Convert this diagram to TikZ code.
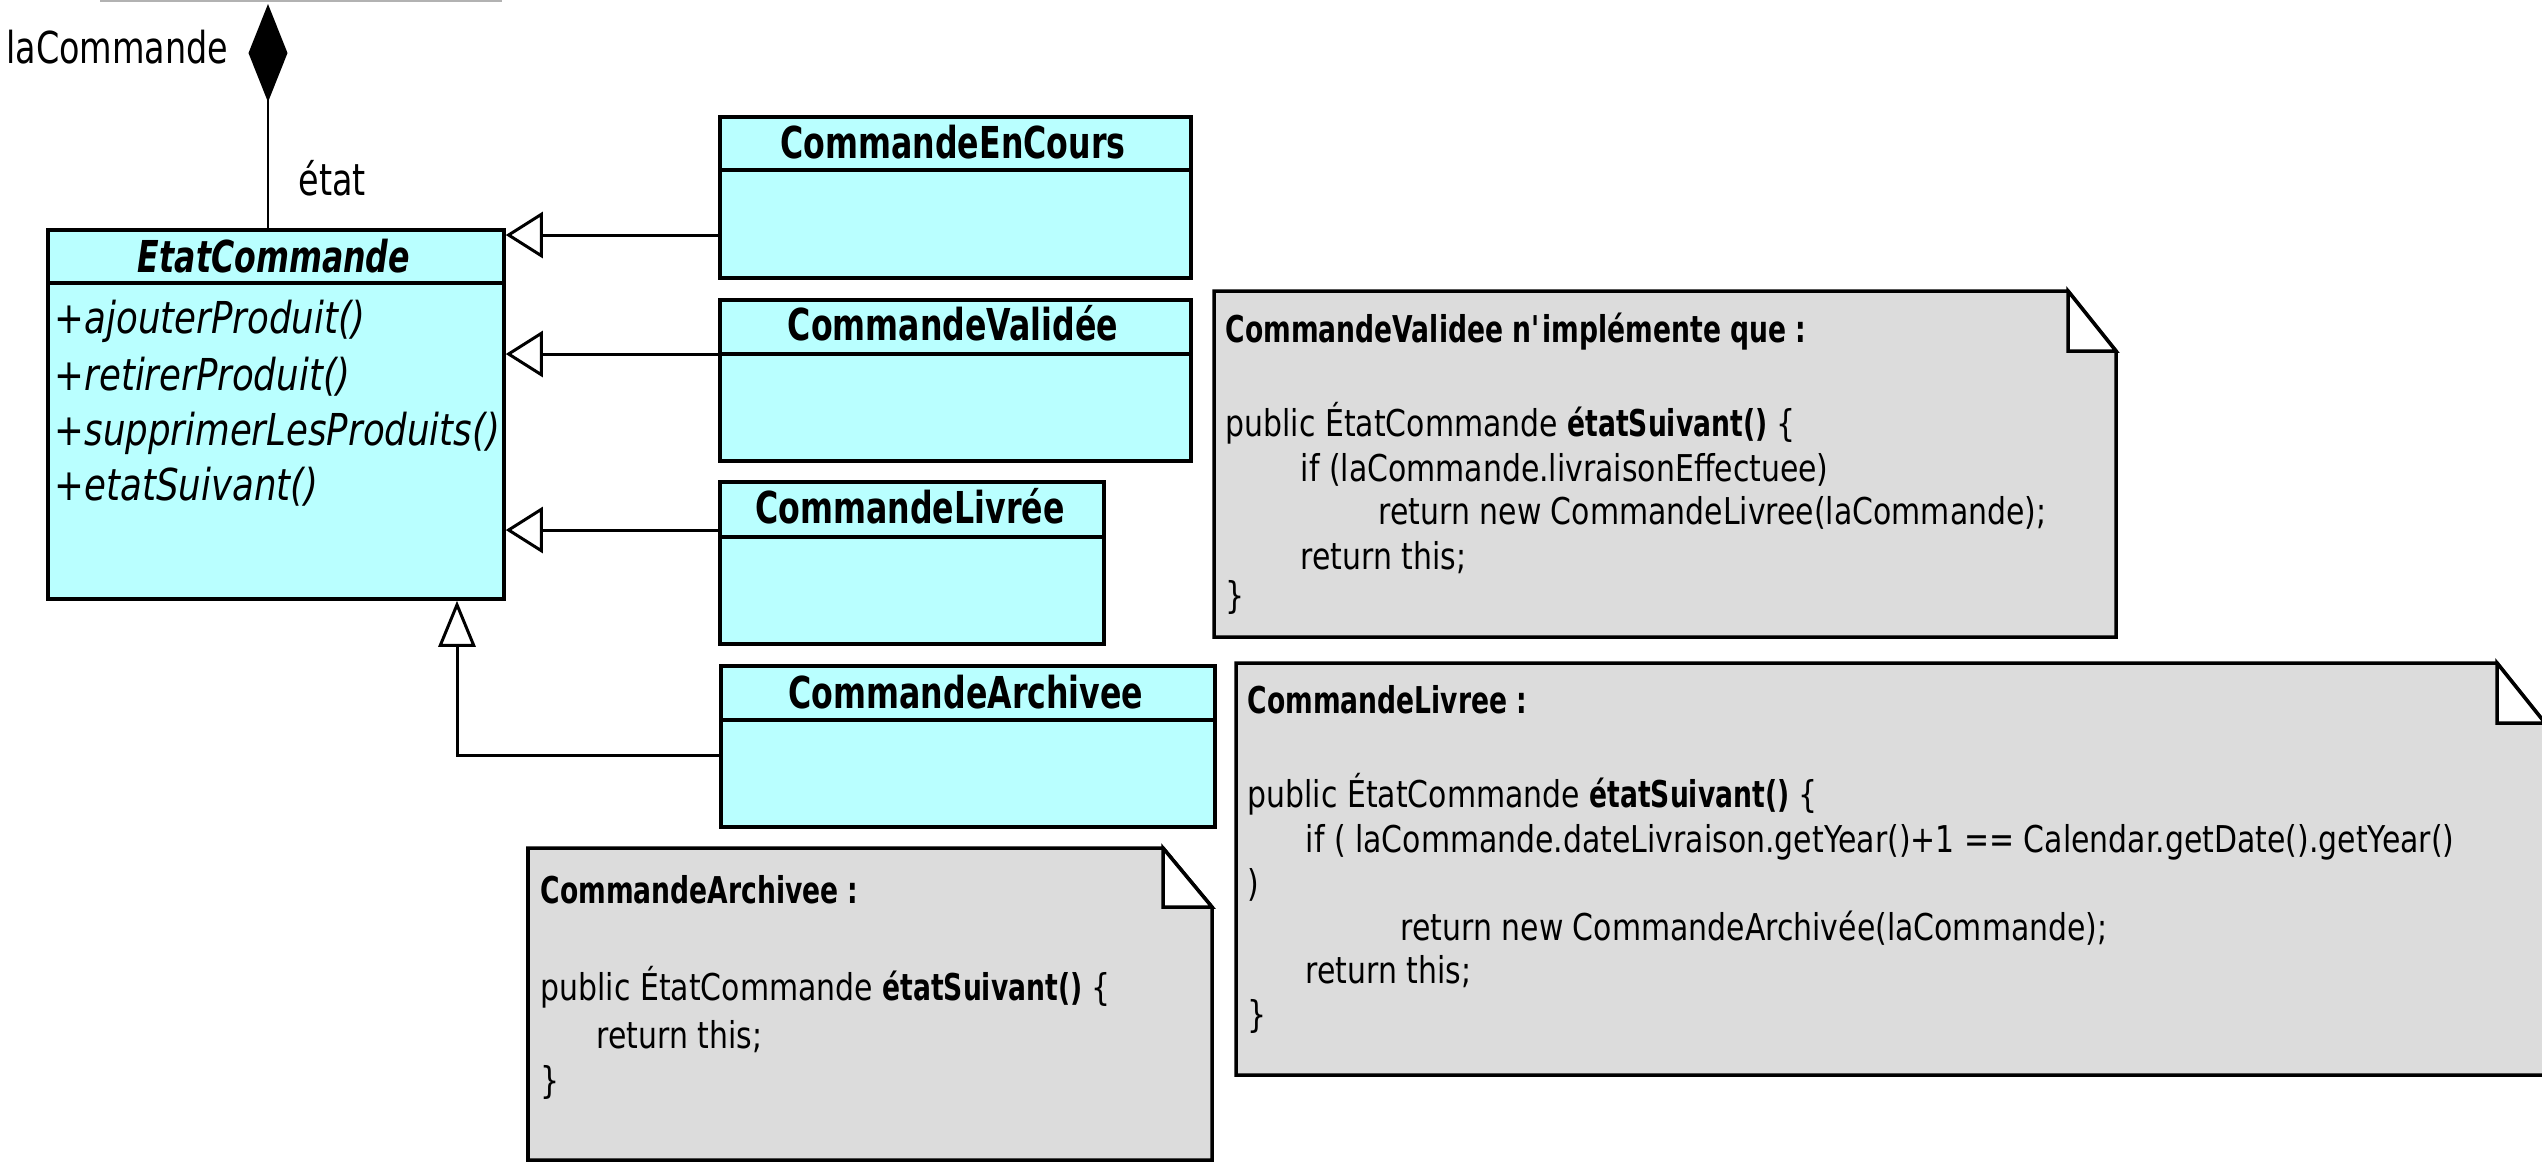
\documentclass[tikz,border=0pt]{standalone}
\usepackage{fontspec}
\setmainfont{DejaVu Sans}[FakeStretch=0.76]
\newfontfamily\boldfam{DejaVu Sans}[FakeStretch=0.72]
\newfontfamily\codefam{DejaVu Sans}[FakeStretch=0.81]
\newfontfamily\methodfam{DejaVu Sans}[FakeStretch=0.81]
\usetikzlibrary{arrows.meta}
\definecolor{classcyan}{RGB}{185,255,255}
\definecolor{notegray}{RGB}{220,220,220}
\newcommand{\methodname}[1]{{\boldfam\bfseries #1}}
\tikzset{classbox/.style={draw=black, fill=classcyan, line width=1pt, anchor=north west, inner sep=0pt},
  classname/.style={font=\boldfam\bfseries\fontsize{12.5}{15}\selectfont, anchor=base, inner sep=0pt},
  abstractname/.style={font=\boldfam\bfseries\itshape\fontsize{12.5}{15}\selectfont, anchor=base, inner sep=0pt},
  method/.style={font=\methodfam\itshape\fontsize{12.5}{15}\selectfont, anchor=base west, inner sep=0pt},
  rolename/.style={font=\fontsize{12.5}{15}\selectfont, inner sep=0pt},
  notebox/.style={draw=black, fill=notegray, line width=1pt},
  notefold/.style={draw=black, fill=white, line width=1pt},
  code/.style={font=\codefam\fontsize{10.5}{12.6}\selectfont, anchor=base west, inner sep=0pt},
  codehead/.style={font=\boldfam\bfseries\fontsize{10.5}{12.6}\selectfont, anchor=base west, inner sep=0pt},
  composition/.style={line width=0.85pt, -{Diamond[length=0.98cm, width=0.39cm]}},
  genh/.style={line width=0.85pt, -{Triangle[open, length=0.37cm, width=0.46cm]}},
  genv/.style={line width=0.85pt, -{Triangle[open, length=0.46cm, width=0.37cm]}}}

\begin{document}
\begin{tikzpicture}[x=0.01cm, y=-0.01cm]
   \useasboundingbox (0,0) rectangle (2542,1162);
   % edge of the owning class, cut off
   \draw[gray!60, line width=0.6pt] (100,1) -- (502,1);
   % abstract state
   \node[classbox, minimum width=4.56cm, minimum height=3.69cm] (etat) at (46,228) {};
   \draw[line width=1pt] (46,283) -- (502,283);
   \node[abstractname] (etatn) at (274,272) {EtatCommande};
   \node[method] (m1) at (54,333) {+ajouterProduit()};
   \node[method] (m2) at (54,390) {+retirerProduit()};
   \node[method] (m3) at (54,445) {+supprimerLesProduits()};
   \node[method] (m4) at (54,500) {+etatSuivant()};
   % composition
   \coordinate (comp) at (268,4);
   \draw[composition] (etat.north -| comp) -- (comp);
   \node[rolename, anchor=base east] (rolea) at (229,63) {laCommande};
   \node[rolename, anchor=base west] (roleb) at (298,195) {état};
   % concrete states
   \node[classbox, minimum width=4.71cm, minimum height=1.61cm] (enc) at (718,115) {};
   \draw[line width=1pt] (718,170) -- (1189,170);
   \node[classname] (encn) at (953,158) {CommandeEnCours};
   \node[classbox, minimum width=4.71cm, minimum height=1.61cm] (val) at (718,298) {};
   \draw[line width=1pt] (718,354) -- (1189,354);
   \node[classname] (valn) at (953,340) {CommandeValidée};
   \node[classbox, minimum width=3.84cm, minimum height=1.62cm] (liv) at (718,480) {};
   \draw[line width=1pt] (718,537) -- (1102,537);
   \node[classname] (livn) at (910,523) {CommandeLivrée};
   \node[classbox, minimum width=4.94cm, minimum height=1.61cm] (arc) at (719,664) {};
   \draw[line width=1pt] (719,720) -- (1213,720);
   \node[classname] (arcn) at (966,708) {CommandeArchivee};
   % generalisations
   \coordinate (g1) at (718,235);
   \coordinate (g2) at (718,354);
   \coordinate (g3) at (718,530);
   \coordinate (g4) at (719,755);
   \draw[genh] (g1) -- (g1 -| etat.east);
   \draw[genh] (g2) -- (g2 -| etat.east);
   \draw[genh] (g3) -- (g3 -| etat.east);
   \draw[genv] (g4) -| (etat.south -| 457,0);
   % note CommandeValidee
   \draw[notebox] (1214,291) -- (2068,291) -- (2116,351) -- (2116,637) -- (1214,637) -- cycle;
   \draw[notefold] (2068,291) -- (2068,351) -- (2116,351) -- cycle;
   \node[codehead] (va0) at (1225,342) {CommandeValidee n\textquotesingle implémente que :};
   \node[code] (va1) at (1225,436) {public ÉtatCommande \methodname{étatSuivant()} \{};
   \node[code] (va2) at (1300,481) {if (laCommande.livraisonEffectuee)};
   \node[code] (va3) at (1378,524) {return new CommandeLivree(laCommande);};
   \node[code] (va4) at (1300,569) {return this;};
   \node[code] (va5) at (1225,608) {\}};
   % note CommandeLivree
   \draw[notebox] (1236,663) -- (2497,663) -- (2545,723) -- (2545,1075) -- (1236,1075) -- cycle;
   \draw[notefold] (2497,663) -- (2497,723) -- (2545,723) -- cycle;
   \node[codehead] (li0) at (1247,713) {CommandeLivree :};
   \node[code] (li1) at (1247,807) {public ÉtatCommande \methodname{étatSuivant()} \{};
   \node[code] (li2) at (1305,852) {if ( laCommande.dateLivraison.getYear()+1 == Calendar.getDate().getYear()};
   \node[code] (li3) at (1247,896) {)};
   \node[code] (li4) at (1400,940) {return new CommandeArchivée(laCommande);};
   \node[code] (li5) at (1305,983) {return this;};
   \node[code] (li6) at (1247,1027) {\}};
   % note CommandeArchivee
   \draw[notebox] (528,848) -- (1163,848) -- (1212,907) -- (1212,1160) -- (528,1160) -- cycle;
   \draw[notefold] (1163,848) -- (1163,907) -- (1212,907) -- cycle;
   \node[codehead] (ar0) at (540,903) {CommandeArchivee :};
   \node[code] (ar1) at (540,1000) {public ÉtatCommande \methodname{étatSuivant()} \{};
   \node[code] (ar2) at (596,1048) {return this;};
   \node[code] (ar3) at (540,1093) {\}};
\end{tikzpicture}
\end{document}
